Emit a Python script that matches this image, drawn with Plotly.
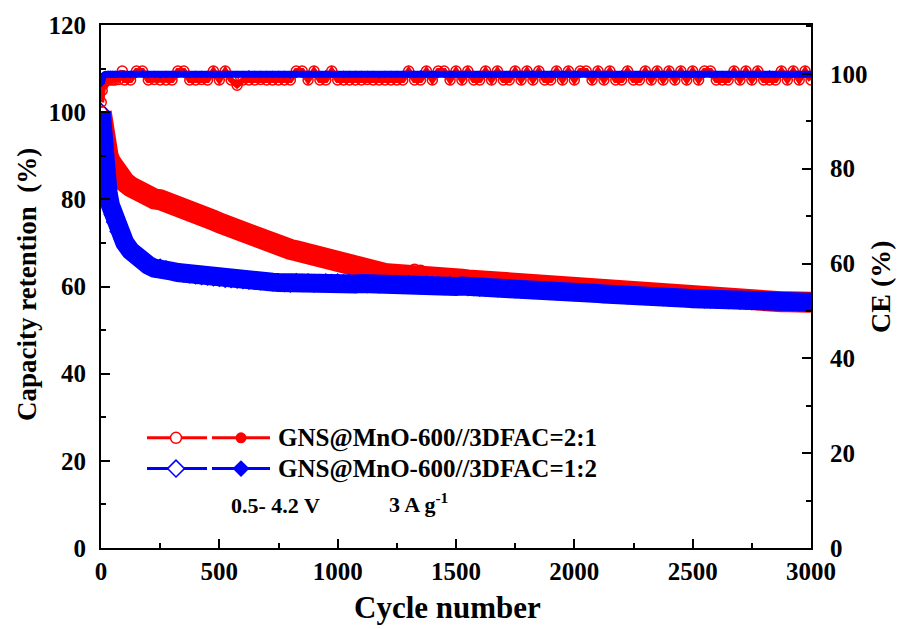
import plotly.graph_objects as go

# ---------------- data ----------------
cycles = [1, 5, 10, 15, 20, 30, 40, 50, 60, 75, 90, 100] + list(range(125, 3001, 25))

ret_21 = [100, 97, 94.5, 93, 92, 90, 88.6, 87.5, 86.6, 85.4, 84.6, 84.0,
          82.9, 81.9, 81.2, 80.4, 80.1, 79.9, 79.5, 78.9, 78.5, 77.7,
          77.2, 76.8, 76.1, 75.8, 75.2, 74.6, 74.0, 73.5, 72.9, 72.5,
          72.0, 71.4, 70.9, 70.3, 69.8, 69.2, 68.9, 68.5, 68.2, 67.8,
          67.5, 67.1, 66.8, 66.4, 66.1, 65.6, 65.0, 64.5, 64.0, 63.6,
          63.4, 63.2, 63.1, 63.0, 62.9, 62.8, 62.9, 63.2, 63.7, 63.5,
          62.9, 62.6, 62.4, 62.2, 62.0, 61.9, 61.7, 61.5, 61.4, 61.2,
          61.0, 60.9, 60.7, 60.5, 60.3, 60.2, 60.0, 59.9, 59.7, 59.5,
          59.4, 59.3, 59.2, 59.1, 59.0, 58.9, 58.8, 58.7, 58.6, 58.5,
          58.4, 58.3, 58.2, 58.1, 58.0, 57.9, 57.8, 57.8, 57.7, 57.6,
          57.5, 57.4, 57.3, 57.2, 57.1, 57.0, 56.9, 56.8, 56.7, 56.7,
          56.6, 56.7, 56.8, 56.9, 56.8, 56.8, 56.7, 56.7, 56.6, 56.6,
          56.5, 56.5, 56.5, 56.4, 56.4, 56.4]

ret_12 = [100, 95.5, 91.5, 88, 85.5, 81.5, 78.6, 76.5, 74.8, 72.6, 71.0, 70.1,
          68.2, 66.8, 65.8, 64.9, 64.2, 64.3, 63.9, 63.5, 63.2, 63.0,
          62.8, 62.6, 62.4, 62.3, 62.1, 62.0, 61.8, 61.7, 61.6, 61.5,
          61.4, 61.3, 61.2, 61.1, 61.0, 60.9, 60.8, 60.7, 61.0, 60.8,
          60.9, 60.7, 60.8, 60.9, 60.8, 60.9, 60.7, 60.8, 60.6, 60.7,
          60.6, 60.7, 60.5, 60.6, 60.5, 60.6, 60.4, 60.5, 60.4, 60.3,
          60.4, 60.2, 60.3, 60.1, 60.2, 60.0, 60.1, 59.9, 59.9, 59.8,
          59.8, 59.7, 59.6, 59.6, 59.5, 59.4, 59.4, 59.3, 59.2, 59.2,
          59.1, 59.0, 58.9, 58.9, 58.8, 58.7, 58.6, 58.6, 58.5, 58.4,
          58.3, 58.3, 58.2, 58.1, 58.0, 58.0, 57.9, 57.8, 57.7, 57.7,
          57.6, 57.5, 57.4, 57.4, 57.3, 57.2, 57.2, 57.1, 57.1, 57.0,
          57.0, 56.9, 56.9, 56.8, 56.8, 56.7, 56.7, 56.6, 56.6, 56.6,
          56.5, 56.5, 56.5, 56.4, 56.4, 56.4]

ce_21 = [94.0, 96.5, 97.8, 98.3, 98.6, 98.7, 98.7, 98.7, 98.7, 98.8, 100.6, 98.7,
         98.7, 100.6, 100.6, 98.7, 98.8, 98.7, 98.7, 98.7, 100.6, 100.6,
         98.7, 98.7, 98.8, 98.7, 100.6, 98.7, 100.6, 98.7, 97.6, 98.7,
         98.7, 98.7, 98.8, 98.7, 98.7, 98.7, 98.7, 98.7, 100.6, 100.6,
         98.7, 100.6, 98.7, 98.7, 100.6, 98.7, 98.7, 98.7, 98.7, 98.7,
         98.8, 98.7, 98.7, 98.7, 98.7, 98.7, 98.7, 100.6, 98.7, 98.7,
         100.6, 98.7, 100.6, 100.6, 98.7, 100.6, 98.7, 100.6, 98.7, 98.7,
         100.6, 98.7, 100.6, 98.7, 98.7, 100.6, 98.7, 100.6, 98.7, 100.6,
         98.7, 98.7, 100.6, 98.7, 100.6, 98.7, 100.6, 100.6, 98.7, 100.6,
         98.7, 100.6, 98.7, 98.7, 100.6, 98.7, 98.7, 100.6, 98.7, 100.6,
         98.7, 100.6, 98.7, 100.6, 98.7, 100.6, 98.7, 100.6, 100.6, 98.7,
         98.7, 98.7, 100.6, 98.7, 100.6, 98.7, 100.6, 98.7, 98.7, 98.7,
         100.6, 98.7, 100.6, 98.7, 100.6, 98.7]

ce_12 = [98.0, 99.2, 99.6, 99.8, 99.9, 99.9, 99.9, 99.9, 99.9, 99.9, 99.9, 99.9,
         99.9, 99.9, 100.0, 99.9, 99.9, 99.8, 99.9, 99.9, 99.9, 100.0,
         99.9, 99.9, 99.9, 99.9, 99.8, 99.9, 99.9, 99.9, 99.9, 99.9,
         100.0, 99.9, 99.9, 99.9, 99.9, 99.9, 99.9, 99.8, 99.9, 99.9,
         99.9, 99.9, 99.9, 100.0, 99.9, 99.9, 99.9, 99.9, 99.9, 99.9,
         99.9, 99.9, 99.8, 99.9, 99.9, 99.9, 99.9, 99.9, 99.9, 100.0,
         99.9, 99.9, 99.9, 99.9, 99.9, 99.9, 99.9, 99.9, 99.9, 99.9,
         99.9, 99.8, 99.9, 99.9, 99.9, 99.9, 99.9, 99.9, 100.0, 99.9,
         99.9, 99.9, 99.9, 99.9, 99.9, 99.9, 99.9, 99.9, 99.9, 99.9,
         99.9, 99.9, 99.9, 100.0, 99.9, 99.9, 99.9, 99.9, 99.9, 99.9,
         99.9, 99.9, 99.9, 99.9, 99.9, 99.9, 99.8, 99.9, 99.9, 99.9,
         99.9, 99.9, 99.9, 99.9, 99.9, 99.9, 99.9, 99.9, 100.0, 99.9,
         99.9, 99.9, 99.9, 99.9, 99.9, 99.9]

x_ticks = [0, 500, 1000, 1500, 2000, 2500, 3000]
yl_ticks = [0, 20, 40, 60, 80, 100, 120]
yr_ticks = [0, 20, 40, 60, 80, 100]

label_21 = "GNS@MnO-600//3DFAC=2:1"
label_12 = "GNS@MnO-600//3DFAC=1:2"

RED = "#FF0000"
BLUE = "#0000FF"
FONT = "Liberation Serif"

fig = go.Figure()

# capacity retention (left axis)
fig.add_trace(go.Scatter(x=cycles, y=ret_21, mode="lines+markers",
                         line=dict(color=RED, width=21),
                         marker=dict(symbol="circle-open", size=12, color=RED, line=dict(width=1.5)),
                         xaxis="x", yaxis="y", cliponaxis=True))
fig.add_trace(go.Scatter(x=cycles, y=ret_12, mode="lines+markers",
                         line=dict(color=BLUE, width=19),
                         marker=dict(symbol="diamond-open", size=13, color=BLUE, line=dict(width=1.5)),
                         xaxis="x", yaxis="y", cliponaxis=True))

# coulombic efficiency (right axis)
fig.add_trace(go.Scatter(x=cycles, y=ce_21, mode="lines+markers",
                         line=dict(color=RED, width=6),
                         marker=dict(symbol="circle-open", size=10, color=RED, line=dict(width=1.5)),
                         xaxis="x", yaxis="y2", cliponaxis=True))
fig.add_trace(go.Scatter(x=cycles, y=ce_12, mode="lines+markers",
                         line=dict(color=BLUE, width=7),
                         marker=dict(symbol="diamond", size=6, color=BLUE),
                         xaxis="x", yaxis="y2", cliponaxis=True))

# ---------------- hand-made legend on a pixel overlay axis ----------------
# overlay coordinates: x in page px (101..811), y = 629 - page px
def row(ypx, color, sym, size):
    yy = 629 - ypx
    for xs in ((147, 207), (212, 270)):
        fig.add_trace(go.Scatter(x=list(xs), y=[yy, yy], mode="lines",
                                 line=dict(color=color, width=3),
                                 xaxis="x3", yaxis="y3", cliponaxis=False))
    fig.add_trace(go.Scatter(x=[176], y=[yy], mode="markers",
                             marker=dict(symbol=sym, size=size, color="white",
                                         line=dict(color=color, width=1.5)),
                             xaxis="x3", yaxis="y3", cliponaxis=False))
    fig.add_trace(go.Scatter(x=[241], y=[yy], mode="markers",
                             marker=dict(symbol=sym, size=size, color=color),
                             xaxis="x3", yaxis="y3", cliponaxis=False))

row(437, RED, "circle", 11)
row(468, BLUE, "diamond", 13)

tickfont = dict(family=FONT, size=25, color="black", weight="bold")
axis_common = dict(showgrid=False, zeroline=False, showline=True, linecolor="black",
                   linewidth=2, ticks="inside", ticklen=9, tickwidth=2, tickcolor="black",
                   tickfont=tickfont)

fig.update_layout(
    width=911, height=629,
    margin=dict(l=101, r=100, t=21, b=81),
    paper_bgcolor="white", plot_bgcolor="rgba(0,0,0,0)",
    showlegend=False,
    xaxis=dict(range=[0, 3000], tickvals=x_ticks, ticktext=[str(v) for v in x_ticks],
               mirror=True, minor=dict(ticks="inside", ticklen=5, tickwidth=2,
                                       tickcolor="black", dtick=250, tick0=0),
               ticklabelstandoff=0, **axis_common),
    yaxis=dict(range=[0, 120], tickvals=yl_ticks, ticktext=[str(v) for v in yl_ticks],
               minor=dict(ticks="inside", ticklen=5, tickwidth=2, tickcolor="black",
                          dtick=10, tick0=0),
               ticklabelstandoff=8, **axis_common),
    yaxis2=dict(range=[0, 110.3], overlaying="y", side="right", anchor="x",
                tickvals=yr_ticks, ticktext=[str(v) for v in yr_ticks],
                minor=dict(ticks="inside", ticklen=5, tickwidth=2, tickcolor="black",
                           dtick=10, tick0=0),
                ticklabelstandoff=12, **axis_common),
    xaxis3=dict(domain=[0, 1], range=[101, 811], anchor="y3", visible=False, fixedrange=True),
    yaxis3=dict(domain=[0, 1], range=[81, 608], anchor="x3", visible=False, fixedrange=True),
)

def ann(text, x, y, size, xanchor="center", angle=0):
    fig.add_annotation(text=text, x=x, y=y, xref="paper", yref="paper",
                       xanchor=xanchor, yanchor="middle", showarrow=False, textangle=angle,
                       font=dict(family=FONT, size=size, color="black", weight="bold"))

def px_x(p):
    return (p - 101) / 710.0

def px_y(p):
    return (548 - p) / 527.0

ann("Cycle number", px_x(447), px_y(608), 31)
ann("Capacity retention  (%)", px_x(27), px_y(283), 27, angle=-90)
ann("CE (%)", px_x(881), px_y(285), 28, angle=-90)
ann(label_21, px_x(276), px_y(437), 25, xanchor="left")
ann(label_12, px_x(276), px_y(468), 25, xanchor="left")
ann("0.5- 4.2 V", px_x(229), px_y(505), 22, xanchor="left")
ann("3 A g<sup>-1</sup>", px_x(387), px_y(503), 22, xanchor="left")

fig.write_html("out.html")
